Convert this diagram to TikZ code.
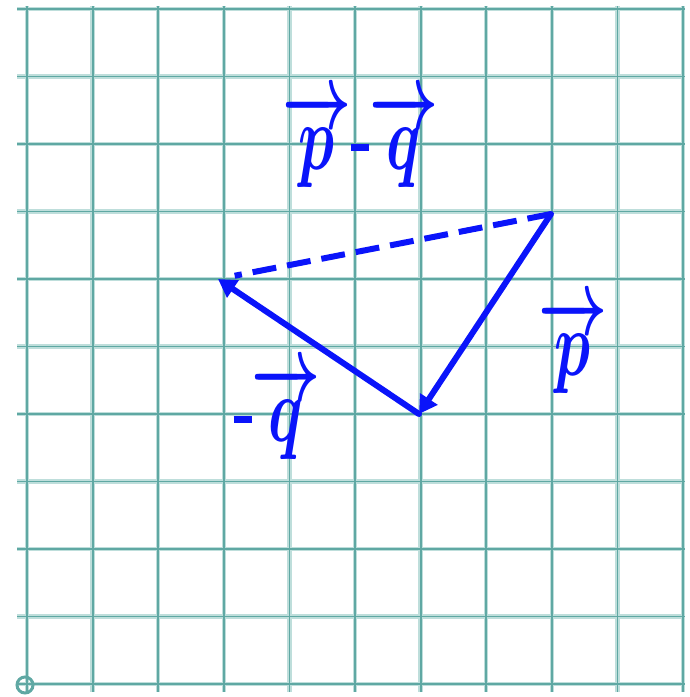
\documentclass[tikz,border=0pt]{standalone}
\usepackage{amsmath,bm,graphicx}
\usetikzlibrary{arrows.meta,calc}
\definecolor{gridcore}{RGB}{95,168,163}
\definecolor{gridhalo}{RGB}{190,222,219}
\definecolor{ink}{RGB}{10,20,250}
\tikzset{
  halo/.style={draw=gridhalo,line width=4.5pt},
  core/.style={draw=gridcore,line width=1.8pt},
  vec/.style={draw=ink,line width=6pt,line cap=round,-{Triangle[length=18pt,width=20pt]}},
  dashvec/.style={draw=ink,line width=6pt,dash pattern=on 24pt off 11pt},
  lbl/.style={text=ink,inner sep=0pt}
}
\newcommand{\hlabel}[1]{\scalebox{6}[9.3]{$\bm{#1}$}}
\newcommand{\hdash}{\mathord{\rule[0.2em]{0.3em}{0.075em}}}
\begin{document}
\begin{tikzpicture}[x=1pt,y=-1pt]
\useasboundingbox (0,0) rectangle (690,697);
% grid
\foreach \i in {0,...,10}{
  \pgfmathsetmacro{\gx}{27+65.6*\i}
  \draw[halo] (\gx,6) -- (\gx,692);
  \pgfmathsetmacro{\gy}{9+67.5*\i}
  \draw[halo] (17,\gy) -- (685,\gy);
}
\foreach \i in {0,...,10}{
  \pgfmathsetmacro{\gx}{27+65.6*\i}
  \draw[core] (\gx,6) -- (\gx,692);
  \pgfmathsetmacro{\gy}{9+67.5*\i}
  \draw[core] (17,\gy) -- (685,\gy);
}
\draw[gridcore,line width=3pt] (25,685) circle (8);
% points
\coordinate (A) at (551,214);
\coordinate (B) at (218,279);
\coordinate (C) at (419,414);
\draw[dashvec] (A) -- ($(B)!0.05!(A)$);
\draw[vec] (A) -- (C);
\draw[vec] (C) -- (B);
% labels
\node[lbl] (lpq) at (360,140) {\hlabel{\overrightarrow{p}\hdash\overrightarrow{q}}};
\node[lbl] (lp) at (573,346) {\hlabel{\overrightarrow{p}}};
\node[lbl] (lq) at (277,412) {\hlabel{\hdash\overrightarrow{q}}};
\end{tikzpicture}
\end{document}
